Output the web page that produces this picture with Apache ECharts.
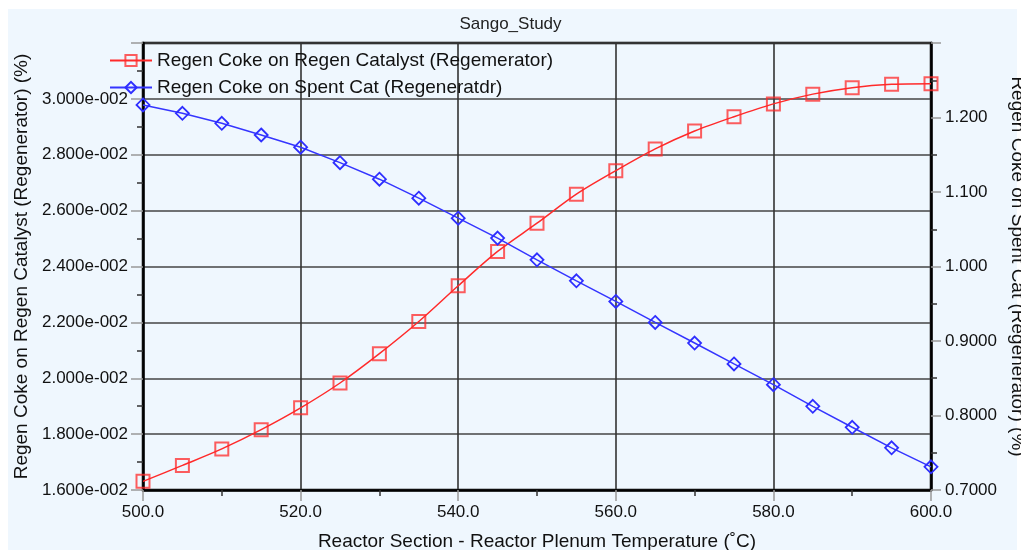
<!DOCTYPE html>
<html>
<head>
<meta charset="utf-8">
<script src="https://cdn.jsdelivr.net/npm/echarts@6/dist/echarts.min.js"></script>
<style>
html,body{margin:0;padding:0;background:#ffffff;}
#chart{width:1021px;height:550px;}
</style>
</head>
<body>
<div id="chart"></div>
<script>
const temperatures = [500,505,510,515,520,525,530,535,540,545,550,555,560,565,570,575,580,585,590,595,600];
const regenCatalystCoke = [0.01631,0.01688,0.01747,0.01816,0.01894,0.01983,0.02088,0.02203,0.02331,0.02454,0.02555,0.02659,0.02743,0.02821,0.02885,0.02936,0.02982,0.03017,0.03040,0.03052,0.03054];
const spentCatCoke = [1.2168,1.2056,1.1922,1.1765,1.1601,1.1394,1.1172,1.0917,1.0649,1.0381,1.0090,0.9808,0.9531,0.9249,0.8973,0.8692,0.8414,0.8123,0.7842,0.7566,0.7311];
const chartTitle = 'Sango_Study';
const seriesNames = ['Regen Coke on Regen Catalyst (Regemerator)', 'Regen Coke on Spent Cat (Regeneratdr)'];
const xAxisName = 'Reactor Section - Reactor Plenum Temperature (˚C)';
const leftAxisName = 'Regen Coke on Regen Catalyst (Regenerator) (%)';
const rightAxisName = 'Regen Coke on Spent Cat (Regenerator) (%)';

function expFmt(v){
  const s = v.toExponential(3);
  const m = s.split('e');
  const sign = m[1][0] === '-' ? '-' : '+';
  const d = m[1].replace(/[+-]/,'');
  return m[0] + 'e' + sign + d.padStart(3,'0');
}

const FONT = 'Liberation Sans';
const chart = echarts.init(document.getElementById('chart'));
chart.setOption({
  backgroundColor: '#ffffff',
  textStyle: {fontFamily: FONT},
  graphic: [{
    type: 'rect', z: -10, silent: true,
    shape: {x: 8, y: 9, width: 1009, height: 541},
    style: {fill: '#EFF7FE'}
  }],
  title: {
    text: chartTitle, left: 'center', top: 11,
    textStyle: {fontSize: 17, fontWeight: 'normal', color: '#222', fontFamily: FONT}
  },
  legend: {
    orient: 'vertical', left: 104, top: 45,
    itemWidth: 42, itemHeight: 14, itemGap: 6,
    textStyle: {fontSize: 19, color: '#111', fontFamily: FONT, lineHeight: 21},
    data: seriesNames
  },
  grid: {
    left: 143, right: 90, top: 43, bottom: 60,
    outerBoundsMode: 'none', containLabel: false,
    show: true, borderColor: '#000', borderWidth: 2.5, backgroundColor: 'transparent'
  },
  xAxis: {
    type: 'value', min: 500, max: 600, interval: 20,
    name: xAxisName, nameLocation: 'middle', nameGap: 42,
    nameTextStyle: {fontSize: 19, color: '#111', fontFamily: FONT},
    axisLine: {lineStyle: {color: '#000', width: 2.5}},
    axisTick: {length: 11, lineStyle: {color: '#999', width: 1.5}},
    minorTick: {show: true, splitNumber: 2, length: 6, lineStyle: {color: '#333', width: 1.5}},
    splitLine: {show: true, lineStyle: {color: '#333', width: 1.6}},
    axisLabel: {fontSize: 17, color: '#111', margin: 14, formatter: v => v.toFixed(1)}
  },
  yAxis: [{
    type: 'value', min: 0.016, max: 0.032, interval: 0.002,
    name: leftAxisName, nameLocation: 'middle', nameGap: 111,
    nameTextStyle: {fontSize: 19, color: '#111', fontFamily: FONT},
    axisLine: {show: true, lineStyle: {color: '#000', width: 2.5}},
    axisTick: {show: true, length: 12, lineStyle: {color: '#999', width: 1.5}},
    minorTick: {show: true, splitNumber: 2, length: 6, lineStyle: {color: '#333', width: 1.5}},
    splitLine: {show: true, lineStyle: {color: '#444', width: 1.6}},
    axisLabel: {fontSize: 17, color: '#111', margin: 15,
      formatter: v => (Math.abs(v - 0.032) < 1e-9 ? '' : expFmt(v))}
  }, {
    type: 'value', min: 0.7, max: 1.3, interval: 0.1, position: 'right',
    name: rightAxisName, nameLocation: 'middle', nameGap: 72, nameRotate: -90,
    nameTextStyle: {fontSize: 19, color: '#111', fontFamily: FONT},
    axisLine: {show: true, lineStyle: {color: '#000', width: 2.5}},
    axisTick: {show: true, length: 10, lineStyle: {color: '#999', width: 1.5}},
    minorTick: {show: true, splitNumber: 2, length: 6, lineStyle: {color: '#333', width: 1.5}},
    splitLine: {show: false},
    axisLabel: {fontSize: 17, color: '#111', margin: 14,
      formatter: v => (Math.abs(v - 1.3) < 1e-9 ? '' : v.toPrecision(4))}
  }],
  series: [{
    name: seriesNames[0], type: 'line', yAxisIndex: 0,
    data: temperatures.map((t, i) => [t, regenCatalystCoke[i]]),
    smooth: 0.3, symbol: 'rect', symbolSize: 13,
    lineStyle: {color: '#FF2A2A', width: 1.5},
    itemStyle: {color: 'rgba(255,255,255,0)', borderColor: 'rgba(255,40,40,0.75)', borderWidth: 2},
    z: 3
  }, {
    name: seriesNames[1], type: 'line', yAxisIndex: 1,
    data: temperatures.map((t, i) => [t, spentCatCoke[i]]),
    smooth: false, symbol: 'diamond', symbolSize: 13,
    lineStyle: {color: '#3535FF', width: 1.5},
    itemStyle: {color: 'rgba(255,255,255,0)', borderColor: '#2E2EFF', borderWidth: 1.8},
    z: 4
  }]
});
</script>
</body>
</html>
